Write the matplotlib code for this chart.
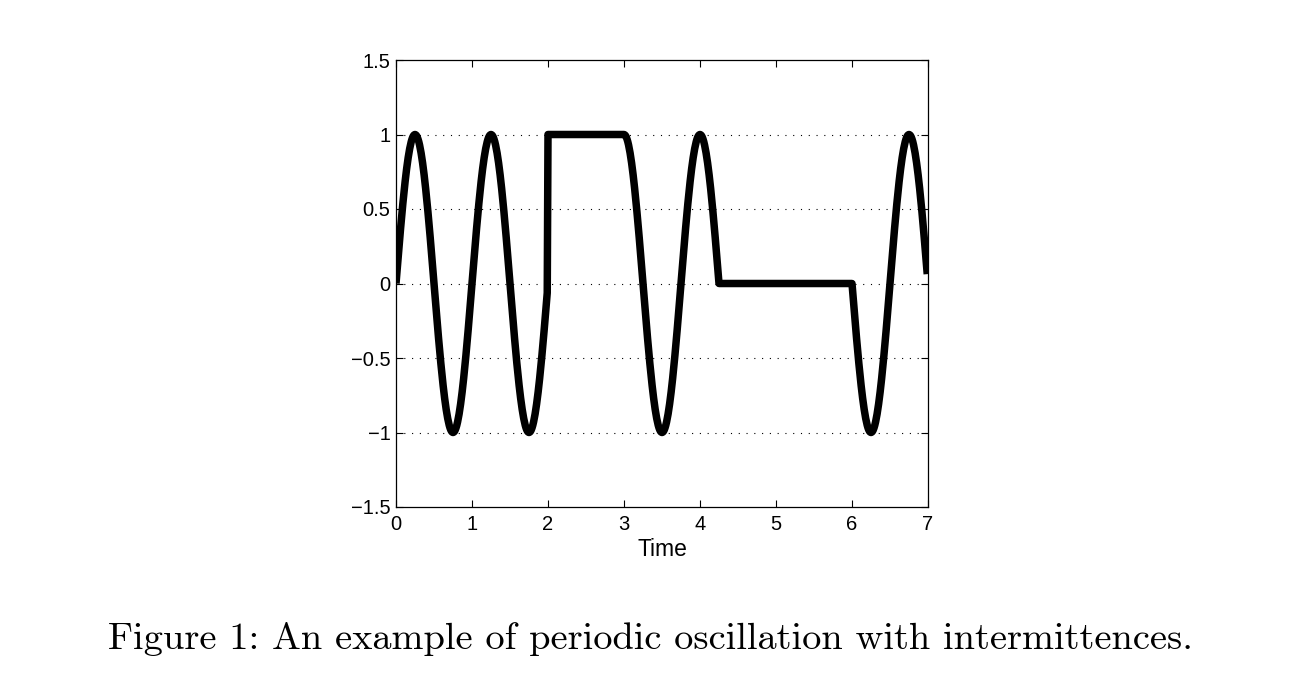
import numpy as np
import matplotlib
matplotlib.use("Agg")
import matplotlib.pyplot as plt

# ---- data: piecewise description of the signal ----
seg_start = [0.0, 2.0, 3.0, 4.25, 6.0]
seg_end = [2.0, 3.0, 4.25, 6.0, 7.0]
seg_kind = ["sin", "const", "cos", "const", "-sin"]
seg_level = [0.0, 1.0, 0.0, 0.0, 0.0]
sample_step = 0.01
x_ticks = [0, 1, 2, 3, 4, 5, 6, 7]
y_ticks = [-1.5, -1, -0.5, 0, 0.5, 1, 1.5]
y_tick_labels = ["\u22121.5", "\u22121", "\u22120.5", "0", "0.5", "1", "1.5"]
x_label = "Time"
caption = "Figure 1: An example of periodic oscillation with intermittences."

sans = "Liberation Sans"
tick_fs = 14.5
lab_fs = 16.5

t = np.arange(0, 7.0, sample_step)
y = np.zeros_like(t)
for s, e, k, lv in zip(seg_start, seg_end, seg_kind, seg_level):
    m = (t >= s - 1e-9) & (t < e - 1e-9)
    tt = t[m] - s
    if k == "sin":
        y[m] = np.sin(2 * np.pi * tt)
    elif k == "-sin":
        y[m] = -np.sin(2 * np.pi * tt)
    elif k == "cos":
        y[m] = np.cos(2 * np.pi * tt)
    else:
        y[m] = lv

fig = plt.figure(figsize=(13.15, 6.89), dpi=100)
ax = fig.add_axes([396 / 1315, 1 - 507 / 689, 532 / 1315, 447 / 689])
ax.plot(t, y, color="black", linewidth=5.4, solid_joinstyle="round",
        solid_capstyle="butt")
ax.set_xlim(0, 7)
ax.set_ylim(-1.5, 1.5)
ax.set_xticks(x_ticks)
ax.set_xticklabels([str(v) for v in x_ticks])
ax.set_yticks(y_ticks)
ax.set_yticklabels(y_tick_labels)
for v in y_ticks[1:-1]:
    ax.axhline(v, color="black", linewidth=0.8, linestyle=(0, (1, 6)),
               zorder=0.5)
ax.tick_params(direction="in", top=True, right=True, length=5, width=0.8,
               labelsize=tick_fs)
ax.tick_params(axis="x", pad=6)
ax.tick_params(axis="y", pad=4)
for lab in ax.get_xticklabels() + ax.get_yticklabels():
    lab.set_fontfamily(sans)
for sp in ax.spines.values():
    sp.set_linewidth(0.9)
ax.set_xlabel(x_label, fontsize=lab_fs, fontfamily=sans, labelpad=3)

fig.text(0.5 - 7 / 1315, 1 - 639 / 689, caption, ha="center", va="center",
         fontsize=27.7, fontfamily="cmr10")

fig.savefig("out.png", dpi=100, facecolor="white")
